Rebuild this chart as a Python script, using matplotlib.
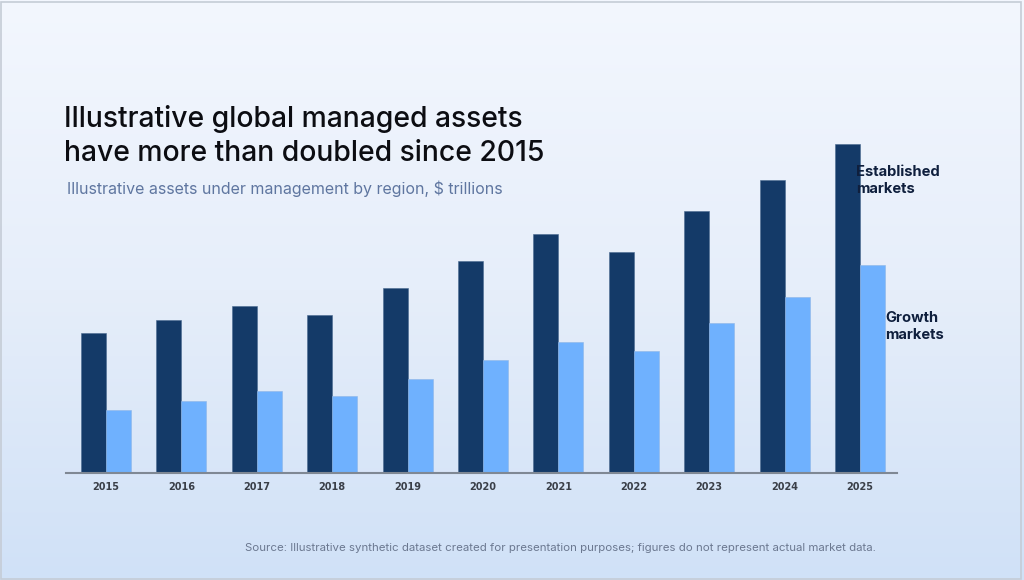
import numpy as np
import matplotlib.pyplot as plt
from matplotlib.colors import LinearSegmentedColormap
from matplotlib.patches import Rectangle

years = ['2015', '2016', '2017', '2018', '2019', '2020', '2021', '2022', '2023', '2024', '2025']
established = [28.0, 30.6, 33.3, 31.6, 37.0, 42.3, 47.7, 44.1, 52.3, 58.5, 65.8]
growth = [12.6, 14.3, 16.3, 15.3, 18.8, 22.5, 26.2, 24.3, 29.9, 35.2, 41.5]

dark = '#143a68'
light = '#6fb1fe'

fig = plt.figure(figsize=(10.24, 5.8), dpi=100)

# background gradient
bg = fig.add_axes([0, 0, 1, 1], zorder=-10)
cmap = LinearSegmentedColormap.from_list('bg', ['#f3f7fe', '#e6eefa', '#d0e1f7'])
grad = np.linspace(0, 1, 256).reshape(-1, 1)
bg.imshow(grad, aspect='auto', cmap=cmap, extent=[0, 1, 0, 1], origin='upper')
bg.add_patch(Rectangle((0.0005, 0.002), 0.997, 0.995, fill=False, ec='#c5ccd6', lw=1.2,
                       transform=bg.transAxes))
bg.set_xlim(0, 1)
bg.set_ylim(0, 1)
bg.axis('off')

px = 1 / 1024
py = 1 / 580
ax = fig.add_axes([66 * px, (580 - 472.7) * py, 831 * px, 350 * py])
ax.patch.set_alpha(0)

x = np.arange(len(years))
w = 0.332
ax.bar(x - w / 2, established, width=w, color=dark, edgecolor='#4a6a90', linewidth=0.4)
ax.bar(x + w / 2, growth, width=w, color=light, edgecolor='#8fb6e6', linewidth=0.4)

ax.set_xlim(-0.53, 10.49)
ax.set_ylim(0, 70)
for s in ['top', 'right', 'left']:
    ax.spines[s].set_visible(False)
ax.spines['bottom'].set_color('#7f8894')
ax.spines['bottom'].set_linewidth(1.5)
ax.set_yticks([])
ax.set_xticks(x)
ax.set_xticklabels(years, fontsize=7, fontweight='bold', color='#3a3f48', family='DejaVu Sans')
ax.tick_params(axis='x', length=0, pad=7)

ax.text(9.945, 58.5, 'Established\nmarkets', fontsize=10.6, fontweight='bold', color='#0f1f3d',
        family='Inter', va='center', ha='left', linespacing=1.25)
ax.text(10.33, 29.3, 'Growth\nmarkets', fontsize=10.6, fontweight='bold', color='#0f1f3d',
        family='Inter', va='center', ha='left', linespacing=1.25)

fig.text(64 * px, 1 - 136 * py, 'Illustrative global managed assets\nhave more than doubled since 2015',
         fontsize=20.4, color='#0c0d12', family='Inter', fontweight='medium',
         va='center', ha='left', linespacing=1.35)
fig.text(67 * px, 1 - 189 * py, 'Illustrative assets under management by region, $ trillions',
         fontsize=11.5, color='#5f76a0', family='Inter', va='center', ha='left')
fig.text(876 * px, 1 - 548 * py,
         'Source: Illustrative synthetic dataset created for presentation purposes; figures do not represent actual market data.',
         fontsize=8.25, color='#6b7890', family='Inter', va='center', ha='right')

fig.savefig('out.png', dpi=100)
